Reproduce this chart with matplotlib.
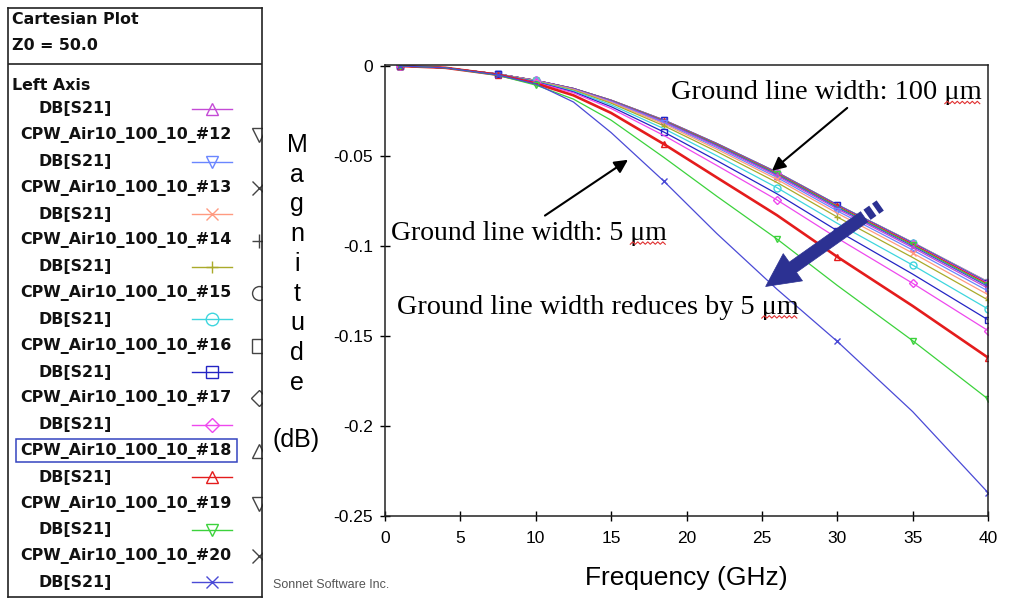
import matplotlib
matplotlib.use("Agg")
import matplotlib.pyplot as plt
from matplotlib.patches import Rectangle, FancyArrowPatch, ArrowStyle
from matplotlib.lines import Line2D

# ---------------------------------------------------------------- data
freq_ghz = [1, 4, 7.5, 10, 12.5, 15, 18.5, 22, 26, 30, 35, 40]

# |S21| in dB for each CPW ground line width (um)
s21_w005 = [0, -0.001, -0.0050, -0.0100, -0.0200, -0.0370, -0.0640, -0.0930, -0.1240, -0.1530, -0.1920, -0.2370]
s21_w010 = [0, -0.001, -0.0052, -0.0106, -0.0184, -0.0301, -0.0508, -0.0723, -0.0961, -0.1219, -0.1526, -0.1850]
s21_w015 = [0, -0.001, -0.0049, -0.0097, -0.0163, -0.0261, -0.0434, -0.0619, -0.0829, -0.1060, -0.1333, -0.1620]
s21_w020 = [0, -0.001, -0.0048, -0.0091, -0.0149, -0.0236, -0.0386, -0.0552, -0.0744, -0.0956, -0.1207, -0.1470]
s21_w025 = [0, -0.001, -0.0047, -0.0088, -0.0144, -0.0226, -0.0367, -0.0525, -0.0710, -0.0915, -0.1156, -0.1410]
s21_w030 = [0, -0.001, -0.0047, -0.0086, -0.0139, -0.0216, -0.0348, -0.0498, -0.0676, -0.0874, -0.1106, -0.1350]
s21_w035 = [0, -0.001, -0.0046, -0.0084, -0.0134, -0.0207, -0.0332, -0.0475, -0.0647, -0.0839, -0.1064, -0.1300]
s21_w040 = [0, -0.001, -0.0046, -0.0083, -0.0131, -0.0202, -0.0322, -0.0462, -0.0630, -0.0818, -0.1039, -0.1270]
s21_w045 = [0, -0.001, -0.0046, -0.0082, -0.0130, -0.0199, -0.0316, -0.0453, -0.0619, -0.0805, -0.1022, -0.1250]
s21_w050 = [0, -0.001, -0.0045, -0.0081, -0.0128, -0.0196, -0.0311, -0.0446, -0.0610, -0.0794, -0.1009, -0.1235]
s21_w055 = [0, -0.001, -0.0045, -0.0081, -0.0127, -0.0194, -0.0308, -0.0441, -0.0604, -0.0787, -0.1001, -0.1225]
s21_w060 = [0, -0.001, -0.0045, -0.0081, -0.0127, -0.0193, -0.0306, -0.0438, -0.0600, -0.0782, -0.0995, -0.1218]
s21_w065 = [0, -0.001, -0.0045, -0.0080, -0.0126, -0.0192, -0.0304, -0.0435, -0.0597, -0.0778, -0.0990, -0.1212]
s21_w070 = [0, -0.001, -0.0045, -0.0080, -0.0126, -0.0191, -0.0303, -0.0434, -0.0595, -0.0776, -0.0987, -0.1208]
s21_w075 = [0, -0.001, -0.0045, -0.0080, -0.0125, -0.0191, -0.0302, -0.0432, -0.0593, -0.0773, -0.0984, -0.1205]
s21_w080 = [0, -0.001, -0.0045, -0.0080, -0.0125, -0.0190, -0.0301, -0.0431, -0.0592, -0.0772, -0.0983, -0.1203]
s21_w085 = [0, -0.001, -0.0045, -0.0080, -0.0125, -0.0190, -0.0301, -0.0431, -0.0591, -0.0771, -0.0982, -0.1202]
s21_w090 = [0, -0.001, -0.0045, -0.0080, -0.0125, -0.0190, -0.0300, -0.0430, -0.0591, -0.0771, -0.0981, -0.1201]
s21_w095 = [0, -0.001, -0.0045, -0.0080, -0.0125, -0.0190, -0.0300, -0.0430, -0.0590, -0.0770, -0.0980, -0.1200]
s21_w100 = [0, -0.001, -0.0045, -0.0080, -0.0125, -0.0190, -0.0300, -0.0430, -0.0590, -0.0770, -0.0980, -0.1198]

# project numbers #1..#20 (ground width 100 um .. 5 um)
project_ids = [1, 2, 3, 4, 5, 6, 7, 8, 9, 10, 11, 12, 13, 14, 15, 16, 17, 18, 19, 20]
curves = [s21_w100, s21_w095, s21_w090, s21_w085, s21_w080, s21_w075, s21_w070,
          s21_w065, s21_w060, s21_w055, s21_w050, s21_w045, s21_w040, s21_w035,
          s21_w030, s21_w025, s21_w020, s21_w015, s21_w010, s21_w005]

x_ticks = [0, 5, 10, 15, 20, 25, 30, 35, 40]
y_ticks = [0, -0.05, -0.1, -0.15, -0.2, -0.25]
y_tick_labels = ["0", "-0.05", "-0.1", "-0.15", "-0.2", "-0.25"]

legend_names = ["CPW_Air10_100_10_#12", "CPW_Air10_100_10_#13", "CPW_Air10_100_10_#14",
                "CPW_Air10_100_10_#15", "CPW_Air10_100_10_#16", "CPW_Air10_100_10_#17",
                "CPW_Air10_100_10_#18", "CPW_Air10_100_10_#19", "CPW_Air10_100_10_#20"]

# ---------------------------------------------------------------- styles
cycle_colors = ["#c44ad6", "#6a86ff", "#ff9a80", "#aaaa2a", "#3ed6de",
                "#2424c4", "#ee48ee", "#e41c1c", "#3cd23c", "#4a4ad6"]
cycle_markers = ["^", "v", "x", "+", "o", "s", "D", "^", "v", "x"]
mark_a = [0, 2, 6, 9, 11]
mark_b = [0, 3, 8, 10, 11]

W, H = 1014, 600
fig = plt.figure(figsize=(W / 100, H / 100), dpi=100)
fig.patch.set_facecolor("white")

# ---------------------------------------------------------------- main plot
ax = fig.add_axes([385 / W, 1 - 516 / H, 603 / W, 451 / H])
for k, (pid, vals) in enumerate(zip(project_ids, curves)):
    ci = (pid - 1) % 10
    col = cycle_colors[ci]
    mk = cycle_markers[ci]
    lw = 1.9 if pid == 18 else 0.9
    filled = mk in ("x", "+")
    ax.plot(freq_ghz, vals, color=col, lw=lw, marker=mk,
            markersize=5 if mk != "D" else 4,
            markerfacecolor=col if filled else "none",
            markeredgecolor=col, markeredgewidth=1.0,
            markevery=mark_a if pid % 2 == 0 else mark_b,
            zorder=2 + k * 0.01)

ax.set_xlim(0, 40)
ax.set_ylim(-0.25, 0.00055)
ax.set_xticks(x_ticks)
ax.set_xticklabels([str(t) for t in x_ticks])
ax.set_yticks(y_ticks)
ax.set_yticklabels(y_tick_labels)
ax.tick_params(direction="inout", length=7, width=1, colors="black",
               labelsize=12.5)
ax.tick_params(axis="x", pad=7)
ax.tick_params(axis="y", pad=5)
for lab in ax.get_xticklabels() + ax.get_yticklabels():
    lab.set_fontfamily("Liberation Sans")
for sp in ax.spines.values():
    sp.set_linewidth(1.1)
    sp.set_color("#222222")

serif = "Liberation Serif"
unit = "\u03bcm"
notes = [
    ax.text(19.0, -0.0150, "Ground line width: 100 " + unit, fontfamily=serif,
            fontsize=20.5, ha="left", va="center", zorder=10),
    ax.text(0.4, -0.0931, "Ground line width: 5 " + unit, fontfamily=serif,
            fontsize=20, ha="left", va="center", zorder=10),
    ax.text(0.8, -0.1341, "Ground line width reduces by 5 " + unit, fontfamily=serif,
            fontsize=20.3, ha="left", va="center", zorder=10),
]

ax.add_patch(FancyArrowPatch((30.66, -0.0233), (25.67, -0.0582),
                             arrowstyle="-|>", mutation_scale=20, lw=1.5,
                             color="black", shrinkA=0, shrinkB=0, zorder=11))
ax.add_patch(FancyArrowPatch((10.61, -0.0831), (16.12, -0.0521),
                             arrowstyle="-|>", mutation_scale=20, lw=1.5,
                             color="black", shrinkA=0, shrinkB=0, zorder=11))

# striped block arrow
tail = (32.85, -0.0775)
tip = (25.25, -0.1225)
def along(t):
    return (tail[0] + (tip[0] - tail[0]) * t, tail[1] + (tip[1] - tail[1]) * t)
navy = "#2c3192"
for t0, t1 in [(0.0, 0.04), (0.065, 0.115)]:
    p0, p1 = along(t0), along(t1)
    ax.add_line(Line2D([p0[0], p1[0]], [p0[1], p1[1]], color=navy, lw=9,
                       solid_capstyle="butt", zorder=12))
ax.add_patch(FancyArrowPatch(along(0.14), tip,
                             arrowstyle=ArrowStyle.Simple(head_length=24, head_width=24, tail_width=9),
                             mutation_scale=1, facecolor=navy, edgecolor=navy,
                             lw=0.5, shrinkA=0, shrinkB=0, zorder=12))

# axis titles
for i, ch in enumerate("Magnitude"):
    fig.text(297 / W, 1 - (145 + i * 29.7) / H, ch, fontfamily="Liberation Sans",
             fontsize=18, ha="center", va="center")
fig.text(296 / W, 1 - 440 / H, "(dB)", fontfamily="Liberation Sans",
         fontsize=18, ha="center", va="center")
fig.text(686 / W, 1 - 578 / H, "Frequency (GHz)", fontfamily="Liberation Sans",
         fontsize=19, ha="center", va="center")
fig.text(273 / W, 1 - 585 / H, "Sonnet Software Inc.", fontfamily="Liberation Sans",
         fontsize=9, color="#555555", ha="left", va="center")

# spell-check squiggle under the unit of each note
fig.canvas.draw()
renderer = fig.canvas.get_renderer()
for t in notes:
    full = t.get_window_extent(renderer)
    probe = ax.text(0, 0, t.get_text()[:-len(unit)], fontfamily=serif,
                    fontsize=t.get_fontsize())
    x_start = full.x0 + probe.get_window_extent(renderer).width
    probe.remove()
    y_base = full.y0 + 3
    xs, ys = [], []
    x = x_start
    n = 0
    while x <= full.x1:
        xs.append(x)
        ys.append(y_base + (1.2 if n % 2 else -1.2))
        x += 2.5
        n += 1
    fig.add_artist(Line2D(xs, ys, transform=None, color="#e03030", lw=0.8, zorder=13))

# ---------------------------------------------------------------- side panel
pan = fig.add_axes([8 / W, 1 - 597 / H, 254 / W, 589 / H])
pan.set_xlim(8, 262)
pan.set_ylim(597, 8)
pan.set_xticks([])
pan.set_yticks([])
for sp in pan.spines.values():
    sp.set_linewidth(1.2)
    sp.set_color("#222222")

bold = dict(fontfamily="DejaVu Sans", fontweight="bold", fontsize=11.4,
            va="center", ha="left", color="#111111")
pan.text(12, 19, "Cartesian Plot", **bold)
pan.text(12, 45, "Z0 = 50.0", **bold)
pan.plot([8, 262], [64, 64], color="#222222", lw=1.2)
pan.text(12, 86, "Left Axis", **bold)

row0 = 109
step = 26.3
for j in range(10):
    y_db = row0 + 2 * j * step
    pid = 11 + j
    ci = (pid - 1) % 10
    col = cycle_colors[ci]
    mk = cycle_markers[ci]
    filled = mk in ("x", "+")
    pan.text(38, y_db, "DB[S21]", **bold)
    pan.plot([192, 232], [y_db, y_db], color=col, lw=1.0)
    pan.plot([212], [y_db], marker=mk, markersize=9 if mk != "D" else 7,
             markerfacecolor=col if filled else "none",
             markeredgecolor=col, markeredgewidth=1.0, color=col)
    if j < 9:
        y_n = y_db + step
        pan.text(20, y_n, legend_names[j], **bold)
        nmk = cycle_markers[(pid) % 10]
        pan.plot([259], [y_n], marker=nmk, markersize=10 if nmk != "D" else 8,
                 markerfacecolor="none", markeredgecolor="#444444",
                 markeredgewidth=1.0, clip_on=True)
        if legend_names[j].endswith("#18"):
            pan.add_patch(Rectangle((16, y_n - 11.5), 221, 23, fill=False,
                                    edgecolor="#3444c0", lw=1.1))

fig.savefig("out.png", dpi=100, facecolor="white")
